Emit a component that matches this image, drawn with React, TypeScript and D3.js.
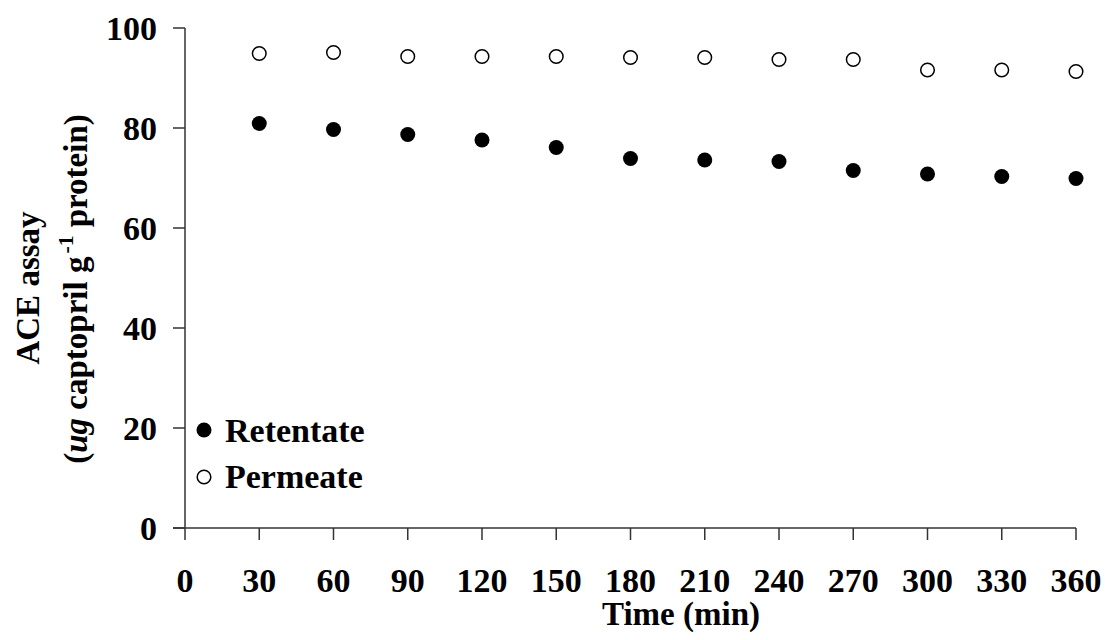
import React from 'react'
import * as d3 from 'd3'

const times = [30, 60, 90, 120, 150, 180, 210, 240, 270, 300, 330, 360]
const retentate = [80.9, 79.7, 78.7, 77.6, 76.1, 73.9, 73.6, 73.3, 71.5, 70.8, 70.3, 69.9]
const permeate = [94.9, 95.1, 94.3, 94.3, 94.3, 94.1, 94.1, 93.7, 93.7, 91.6, 91.6, 91.3]
const xTicks = [0, 30, 60, 90, 120, 150, 180, 210, 240, 270, 300, 330, 360]
const yTicks = [0, 20, 40, 60, 80, 100]

const W = 1105
const H = 640
const font = '"Liberation Serif", "Times New Roman", serif'
const axisColor = '#333'

export default function App () {
    const x = d3.scaleLinear().domain([0, 360]).range([185, 1076])
    const y = d3.scaleLinear().domain([0, 100]).range([528, 28])

    return (
        <svg width={W} height={H} style={{ position: 'absolute', left: 0, top: 0, background: '#fff' }}
            fontFamily={font} fontWeight="bold">
            {/* axes */}
            <line x1={x(0)} x2={x(0)} y1={y(100)} y2={y(0)} stroke={axisColor} strokeWidth={1.5} />
            <line x1={x(0) - 12} x2={x(360)} y1={y(0)} y2={y(0)} stroke={axisColor} strokeWidth={1.5} />
            {yTicks.map(t => (
                <g key={'y' + t}>
                    <line x1={x(0) - 12} x2={x(0)} y1={y(t)} y2={y(t)} stroke={axisColor} strokeWidth={1.5} />
                    <text x={157} y={y(t)} dy="0.35em" textAnchor="end" fontSize={34}>{t}</text>
                </g>
            ))}
            {xTicks.map(t => (
                <g key={'x' + t}>
                    <line x1={x(t)} x2={x(t)} y1={y(0)} y2={y(0) + 12} stroke={axisColor} strokeWidth={1.5} />
                    <text x={x(t)} y={592} textAnchor="middle" fontSize={34}>{t}</text>
                </g>
            ))}

            {/* axis titles */}
            <text x={681} y={625} textAnchor="middle" fontSize={33}>Time (min)</text>
            <text transform="translate(39,288) rotate(-90)" textAnchor="middle" fontSize={33}>ACE assay</text>
            <text transform="translate(87,289) rotate(-90)" textAnchor="middle" fontSize={33}>
                (<tspan fontStyle="italic">ug</tspan> captopril g<tspan dx={3} dy={-14} fontSize={22}>-1</tspan><tspan dx={8} dy={14}>protein)</tspan>
            </text>

            {/* data */}
            {times.map((t, i) => (
                <circle key={'p' + t} cx={x(t)} cy={y(permeate[i])} r={6.8} fill="#fff" stroke="#000" strokeWidth={1.5} />
            ))}
            {times.map((t, i) => (
                <circle key={'r' + t} cx={x(t)} cy={y(retentate[i])} r={7.5} fill="#000" />
            ))}

            {/* legend */}
            <circle cx={204} cy={430} r={7.5} fill="#000" />
            <text x={225} y={442} fontSize={34}>Retentate</text>
            <circle cx={204} cy={477} r={6.8} fill="#fff" stroke="#000" strokeWidth={1.5} />
            <text x={225} y={488} fontSize={34}>Permeate</text>
        </svg>
    )
}
